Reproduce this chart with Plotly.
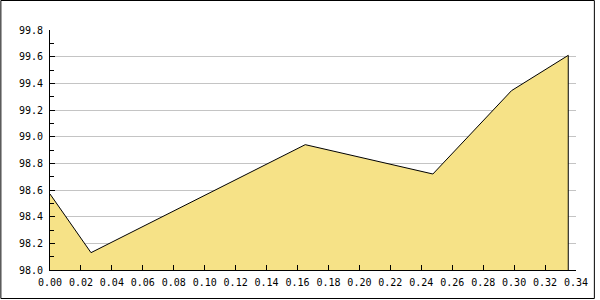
import plotly.graph_objects as go

x_vals = [0.0, 0.0265, 0.165, 0.2475, 0.2983, 0.335]
y_vals = [98.57, 98.13, 98.94, 98.72, 99.345, 99.61]

y_min, y_max, y_step = 98.0, 99.8, 0.2
x_min, x_max, x_step = 0.0, 0.34, 0.02

W, H = 600, 300
ML, MR, MT, MB = 50, 20, 30, 30
PW, PH = W - ML - MR, H - MT - MB

fill_x = x_vals + [x_vals[-1]]
fill_y = y_vals + [y_min]

fig = go.Figure()
fig.add_trace(go.Scatter(
    x=fill_x, y=fill_y, mode="lines", fill="tozeroy",
    fillcolor="#F6E287", line=dict(color="black", width=1),
    hoverinfo="skip", showlegend=False,
))

font = dict(family="DejaVu Sans Mono", size=10, color="black")

fig.update_layout(
    width=W, height=H,
    margin=dict(l=ML, r=MR, t=MT, b=MB, pad=0),
    paper_bgcolor="white", plot_bgcolor="white",
    showlegend=False,
    xaxis=dict(
        range=[x_min, x_max], dtick=x_step, tick0=0, tickformat=".2f",
        showgrid=False, zeroline=False, showline=True, linecolor="black", linewidth=1,
        ticks="inside", ticklen=5, tickcolor="black", tickfont=font,
        ticklabelstandoff=3,
    ),
    yaxis=dict(
        range=[y_min, y_max], dtick=y_step, tick0=y_min, tickformat=".1f",
        showgrid=True, gridcolor="#C4C4C4", gridwidth=1,
        zeroline=False, showline=True, linecolor="black", linewidth=1,
        ticks="inside", ticklen=5, tickcolor="black", tickfont=font,
        ticklabelstandoff=4,
        minor=dict(ticks="inside", ticklen=4, dtick=y_step / 2, tickcolor="black", showgrid=False),
    ),
    shapes=[dict(
        type="rect", xref="paper", yref="paper",
        x0=(0.5 - ML) / PW, x1=(W - 1.5 - ML) / PW,
        y0=(MT + PH - (H - 1.5)) / PH, y1=(MT + PH - 0.5) / PH,
        line=dict(color="black", width=1), fillcolor="rgba(0,0,0,0)", layer="above",
    )],
)

fig.write_html("out.html")
